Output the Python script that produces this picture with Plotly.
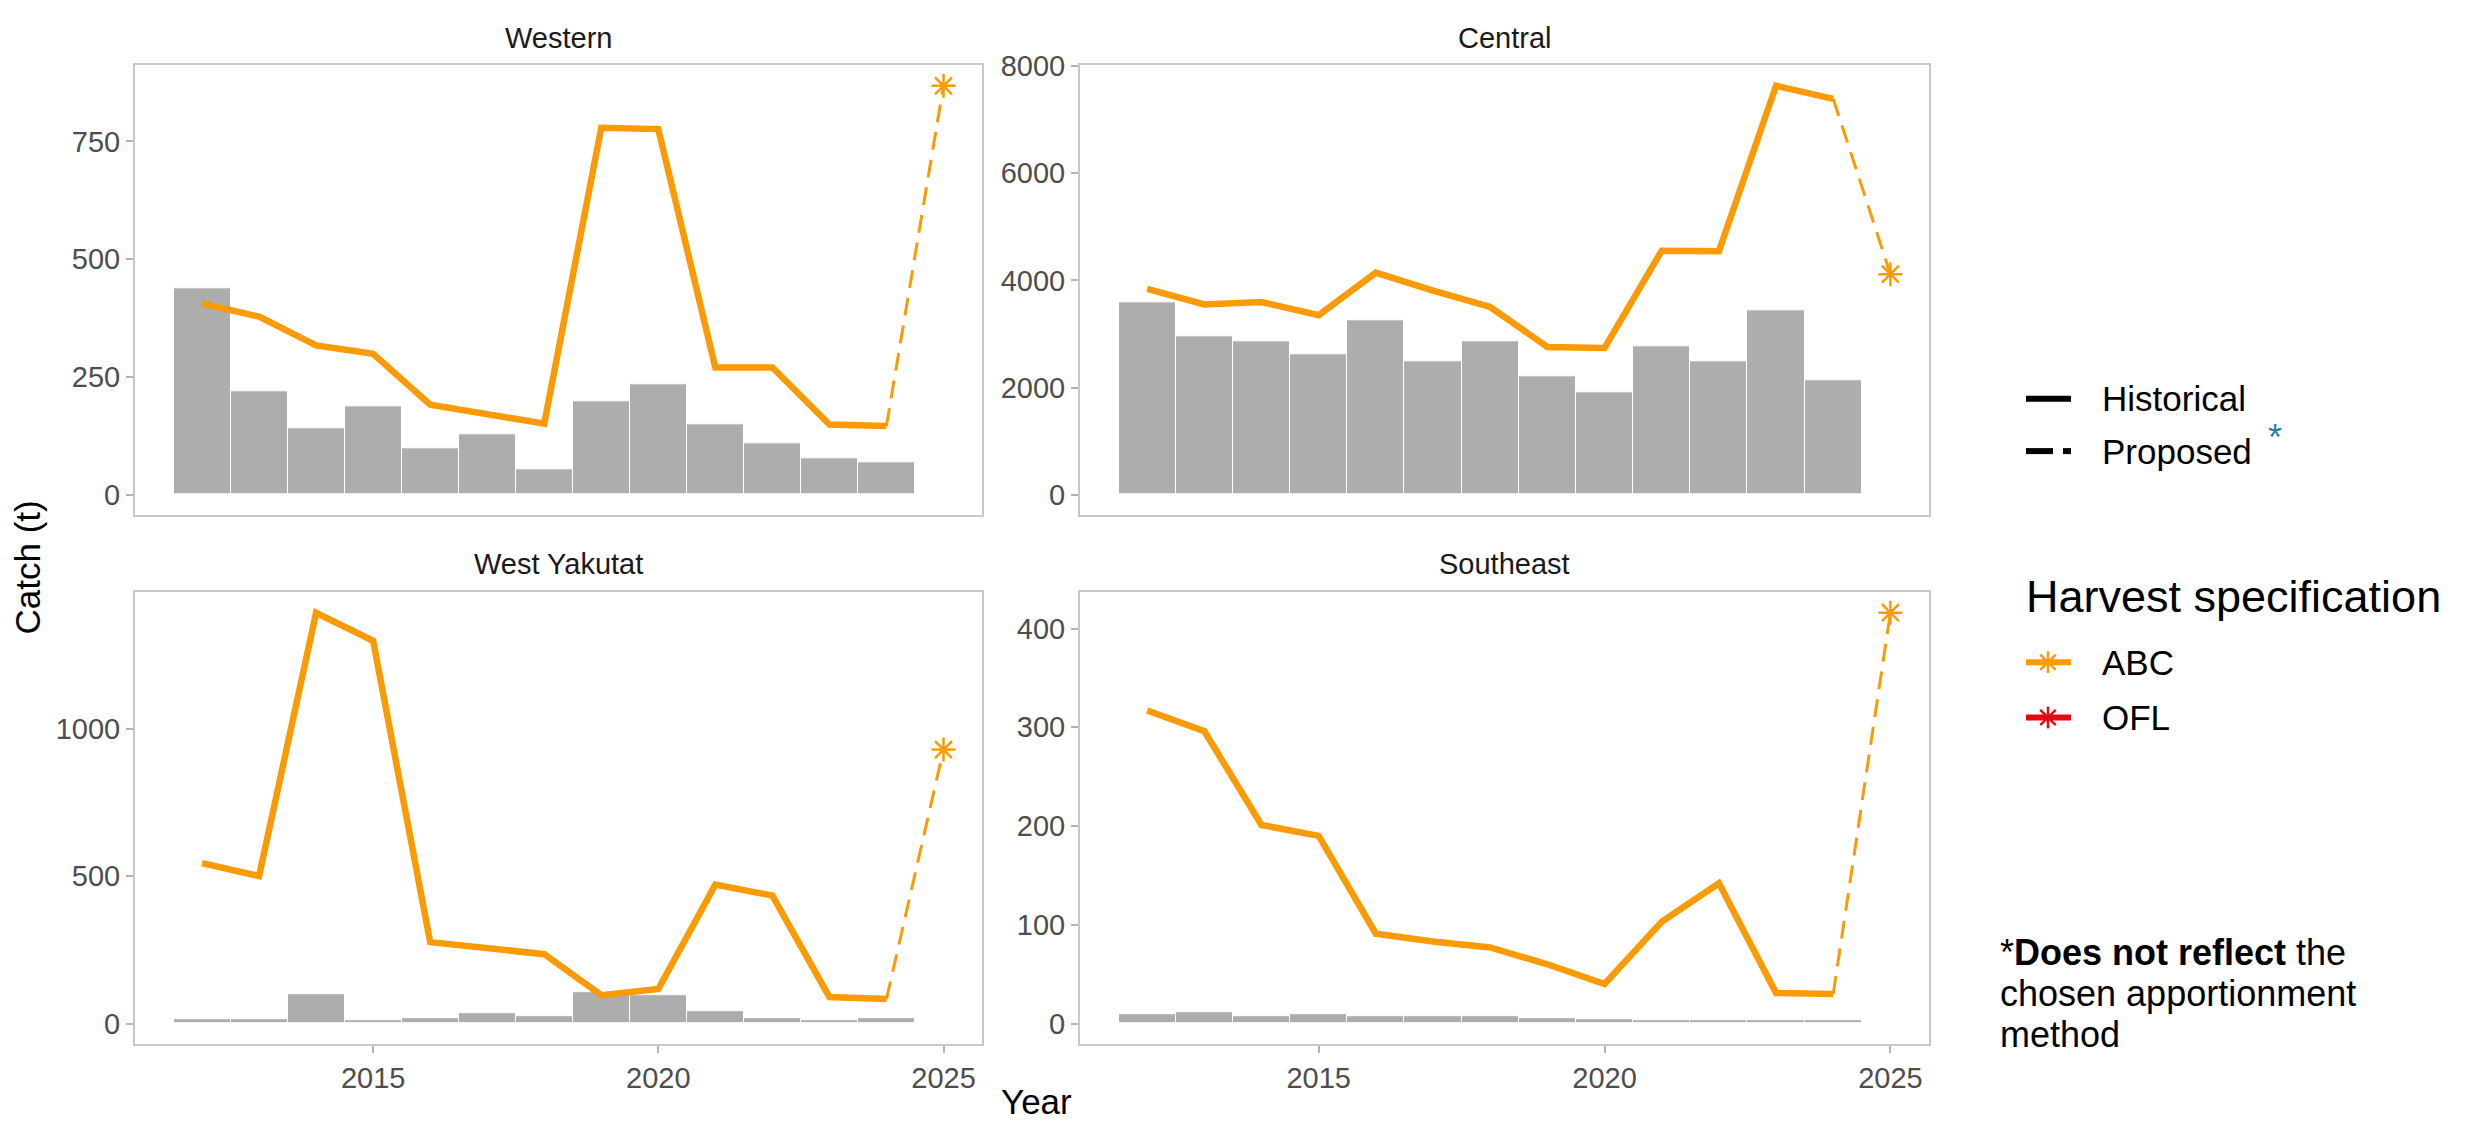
import plotly.graph_objects as go

# ---- data -------------------------------------------------------------
years = list(range(2012, 2025))
proj_year = 2025
areas = ["Western", "Central", "West Yakutat", "Southeast"]

catch_western = [438, 219, 142, 187, 99, 129, 54, 199, 234, 149, 109, 78, 69]
catch_central = [3596, 2954, 2862, 2618, 3248, 2495, 2862, 2220, 1914, 2771, 2495, 3443, 2128]
catch_wyak = [14, 16, 99, 13, 19, 35, 25, 105, 95, 43, 18, 13, 17]
catch_se = [9, 11, 7, 9, 7, 7, 7, 5, 4, 3.5, 3.5, 3.5, 3.5]

abc_western = [406, 378, 317, 299, 191, 172, 151, 779, 776, 270, 270, 149, 146]
abc_central = [3841, 3553, 3596, 3352, 4147, 3810, 3505, 2758, 2740, 4556, 4544, 7633, 7388]
abc_wyak = [544, 500, 1393, 1298, 276, 255, 235, 96, 117, 471, 434, 90, 83]
abc_se = [317, 296, 201, 190, 91, 83, 77, 60, 40, 103, 142, 31, 30]

abc_proposed = [868, 4116, 929, 416]  # 2025, same order as areas

y_ticks = [
    [0, 250, 500, 750],
    [0, 2000, 4000, 6000, 8000],
    [0, 500, 1000],
    [0, 100, 200, 300, 400],
]
x_ticks = [2015, 2020, 2025]

catches = [catch_western, catch_central, catch_wyak, catch_se]
abcs = [abc_western, abc_central, abc_wyak, abc_se]

# ---- style ------------------------------------------------------------
W, H = 2473, 1124
FONT = "Liberation Sans, Arial, sans-serif"
ORANGE = "#FA9A05"
RED = "#E10A14"
BAR = "#ADADAD"
BORDER = "#C8C8C8"
TICKTXT = "#4D4D4D"

# panel boxes in pixels: (left, right, top, bottom)
boxes = [
    (135, 982, 51, 507),
    (1080, 1929, 51, 507),
    (135, 982, 585, 1043),
    (1080, 1929, 585, 1043),
]


def px(x):
    return x / W


def py(y):
    return 1 - y / H


fig = go.Figure()

for i, area in enumerate(areas):
    n = "" if i == 0 else str(i + 1)
    xa, ya = "x" + n, "y" + n
    fig.add_trace(go.Bar(
        x=years, y=catches[i], width=1, xaxis=xa, yaxis=ya,
        marker=dict(color=BAR, line=dict(color="white", width=1)),
        showlegend=False, hoverinfo="x+y",
    ))
    fig.add_trace(go.Scatter(
        x=years, y=abcs[i], mode="lines", xaxis=xa, yaxis=ya,
        line=dict(color=ORANGE, width=6.5), showlegend=False,
    ))
    fig.add_trace(go.Scatter(
        x=[years[-1], proj_year], y=[abcs[i][-1], abc_proposed[i]],
        mode="lines", xaxis=xa, yaxis=ya,
        line=dict(color=ORANGE, width=3, dash="18px,10px"), showlegend=False,
    ))
    fig.add_trace(go.Scatter(
        x=[proj_year], y=[abc_proposed[i]], mode="markers", xaxis=xa, yaxis=ya,
        marker=dict(symbol="asterisk-open", size=20, color=ORANGE,
                    line=dict(color=ORANGE, width=2.5)),
        showlegend=False,
    ))

    l, r, t, b = boxes[i]
    ymax = max(max(catches[i]), max(abcs[i]), abc_proposed[i])
    pad = 0.05 * ymax
    bottom_row = i >= 2
    fig.layout["xaxis" + n] = dict(
        domain=[px(l), px(r)], anchor=ya, range=[2010.825, 2025.675],
        showgrid=False, zeroline=False, showline=True, mirror=True,
        linecolor=BORDER, linewidth=2,
        tickvals=x_ticks, showticklabels=bottom_row,
        ticks="outside" if bottom_row else "", ticklen=7, tickwidth=1.5,
        tickcolor="#B3B3B3",
        tickfont=dict(family=FONT, size=29, color=TICKTXT),
    )
    fig.layout["yaxis" + n] = dict(
        domain=[py(b), py(t)], anchor=xa, range=[-pad, ymax + pad],
        showgrid=False, zeroline=False, showline=True, mirror=True,
        linecolor=BORDER, linewidth=2,
        tickvals=y_ticks[i], ticks="outside", ticklen=7, tickwidth=1.5,
        tickcolor="#B3B3B3",
        tickfont=dict(family=FONT, size=29, color=TICKTXT),
    )

annotations = []
shapes = []

# facet strip titles
strip_y = [23, 23, 556, 556]
for i, area in enumerate(areas):
    l, r, t, b = boxes[i]
    annotations.append(dict(
        text=area, x=px((l + r) / 2), y=py(strip_y[i]), xref="paper", yref="paper",
        showarrow=False, xanchor="center", yanchor="middle",
        font=dict(family=FONT, size=29, color="#1A1A1A"),
    ))

# axis titles
annotations.append(dict(
    text="Catch (t)", x=px(28), y=py(560), xref="paper", yref="paper",
    showarrow=False, textangle=-90, xanchor="center", yanchor="middle",
    font=dict(family=FONT, size=35, color="black"),
))
annotations.append(dict(
    text="Year", x=px(1036), y=py(1101), xref="paper", yref="paper",
    showarrow=False, xanchor="center", yanchor="middle",
    font=dict(family=FONT, size=35, color="black"),
))


def seg(x0, y0, x1, y1, color, width, dash="solid"):
    shapes.append(dict(
        type="line", xref="paper", yref="paper",
        x0=px(x0), y0=py(y0), x1=px(x1), y1=py(y1),
        line=dict(color=color, width=width, dash=dash),
    ))


def asterisk(cx, cy, rad, color, width):
    d = rad * 0.7071
    seg(cx, cy - rad, cx, cy + rad, color, width)
    seg(cx - rad, cy, cx + rad, cy, color, width)
    seg(cx - d, cy - d, cx + d, cy + d, color, width)
    seg(cx - d, cy + d, cx + d, cy - d, color, width)


def label(text, x, y, size, color="black", xanchor="left"):
    annotations.append(dict(
        text=text, x=px(x), y=py(y), xref="paper", yref="paper",
        showarrow=False, xanchor=xanchor, yanchor="middle",
        font=dict(family=FONT, size=size, color=color),
    ))


# line-type legend
seg(2026, 389, 2071, 389, "black", 6)
label("Historical", 2100, 389, 35)
seg(2026, 442, 2053, 442, "black", 6)
seg(2063, 442, 2071, 442, "black", 6)
label("Proposed", 2100, 442, 35)
label("*", 2266, 428, 36, color="#2A7FA6")

# harvest specification legend
label("Harvest specification", 2024, 589, 45)
seg(2026, 656, 2071, 656, ORANGE, 6)
asterisk(2048, 656, 11, ORANGE, 2.5)
label("ABC", 2100, 656, 35)
seg(2026, 712, 2071, 712, RED, 6)
asterisk(2048, 712, 11, RED, 2.5)
label("OFL", 2100, 712, 35)

# footnote
label("*<b>Does not reflect</b> the", 1998, 950, 36)
label("chosen apportionment", 1998, 992, 36)
label("method", 1998, 1033, 36)

fig.update_layout(
    width=W, height=H, autosize=False,
    margin=dict(l=0, r=0, t=0, b=0),
    paper_bgcolor="white", plot_bgcolor="white",
    bargap=0, showlegend=False,
    annotations=annotations, shapes=shapes,
)

fig.write_html("out.html")
